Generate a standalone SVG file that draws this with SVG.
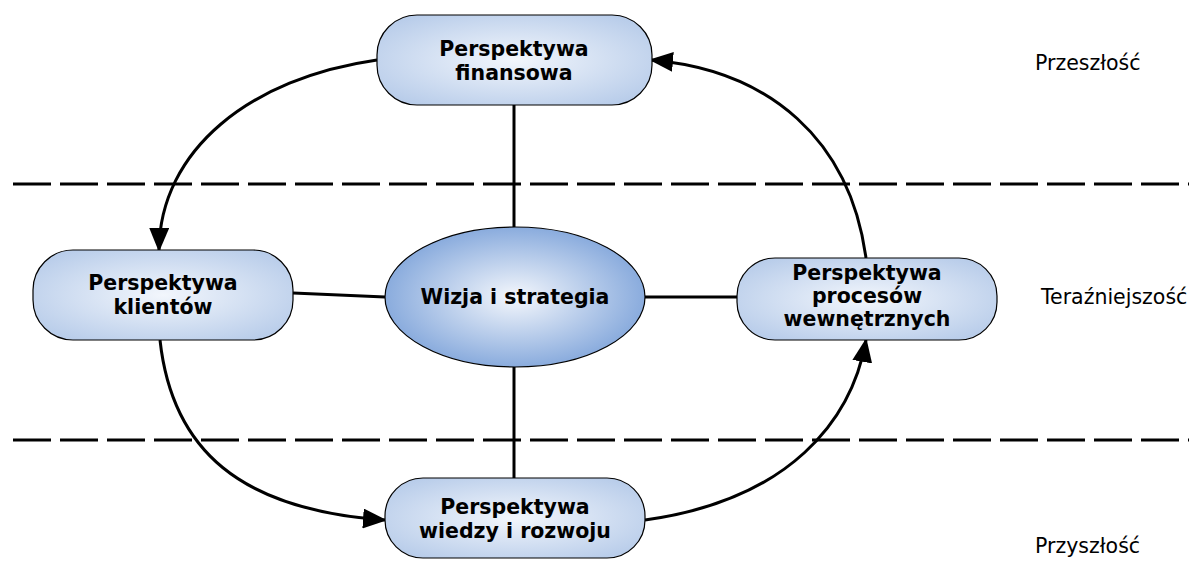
<svg xmlns="http://www.w3.org/2000/svg" width="1189" height="561" viewBox="0 0 1189 561">
<defs>
<radialGradient id="gBox" cx="50%" cy="50%" r="60%">
<stop offset="0" stop-color="#f2f6fc"/>
<stop offset="1" stop-color="#b9cdea"/>
</radialGradient>
<radialGradient id="gEll" cx="50%" cy="50%" r="55%">
<stop offset="0" stop-color="#f4f7fc"/>
<stop offset="1" stop-color="#7fa4da"/>
</radialGradient>
<marker id="ah" markerWidth="24" markerHeight="20" refX="22" refY="10" orient="auto" markerUnits="userSpaceOnUse">
<path d="M0,0 L24,10 L0,20 z" fill="#000"/>
</marker>
<style>
.box{fill:url(#gBox);stroke:#000;stroke-width:1.2}
.ell{fill:url(#gEll);stroke:#000;stroke-width:1.2}
.lbl{font-family:"DejaVu Sans",Verdana,sans-serif;font-weight:bold;font-size:20.5px;text-anchor:middle;fill:#000}
.side{font-family:"DejaVu Sans",Verdana,sans-serif;font-size:20.5px;fill:#000}
.ln{stroke:#000;stroke-width:3;fill:none}
.arr{stroke:#000;stroke-width:3;fill:none;marker-end:url(#ah)}
.dash{stroke:#000;stroke-width:3;stroke-dasharray:38 9;fill:none}
</style>
</defs>
<g id="separators">
<line class="dash" x1="13" y1="184" x2="1189" y2="184"/>
<line class="dash" x1="13" y1="440" x2="1189" y2="440"/>
</g>
<g id="connectors">
<line class="ln" x1="514" y1="105" x2="514" y2="228"/>
<line class="ln" x1="514" y1="367" x2="514" y2="478"/>
<line class="ln" x1="293" y1="293" x2="385" y2="297"/>
<line class="ln" x1="645" y1="297" x2="737" y2="297"/>
<path class="arr" d="M377,60 C250,78 160,150 159,250"/>
<path class="arr" d="M160,340 C172,450 240,510 385,520"/>
<path class="arr" d="M645,520 C790,500 852,420 866,340"/>
<path class="arr" d="M866,258 C850,140 770,70 651,60"/>
</g>
<g id="finansowa">
<rect class="box" x="377" y="15" width="275" height="90" rx="40" ry="40"/>
<text class="lbl" x="514" y="56">Perspektywa</text>
<text class="lbl" x="514" y="80">finansowa</text>
</g>
<g id="klientow">
<rect class="box" x="33" y="250" width="260" height="90" rx="40" ry="40"/>
<text class="lbl" x="163" y="290">Perspektywa</text>
<text class="lbl" x="163" y="314">klientów</text>
</g>
<g id="wizja">
<ellipse class="ell" cx="515" cy="297" rx="130" ry="70"/>
<text class="lbl" x="515" y="304">Wizja i strategia</text>
</g>
<g id="procesow">
<rect class="box" x="737" y="258" width="260" height="82" rx="38" ry="38"/>
<text class="lbl" x="867" y="280">Perspektywa</text>
<text class="lbl" x="867" y="303">procesów</text>
<text class="lbl" x="867" y="326">wewnętrznych</text>
</g>
<g id="wiedzy">
<rect class="box" x="385" y="478" width="260" height="80" rx="38" ry="38"/>
<text class="lbl" x="515" y="514">Perspektywa</text>
<text class="lbl" x="515" y="538">wiedzy i rozwoju</text>
</g>
<g id="labels">
<text class="side" x="1035" y="70">Przeszłość</text>
<text class="side" x="1041" y="304">Teraźniejszość</text>
<text class="side" x="1035" y="553">Przyszłość</text>
</g>
</svg>
